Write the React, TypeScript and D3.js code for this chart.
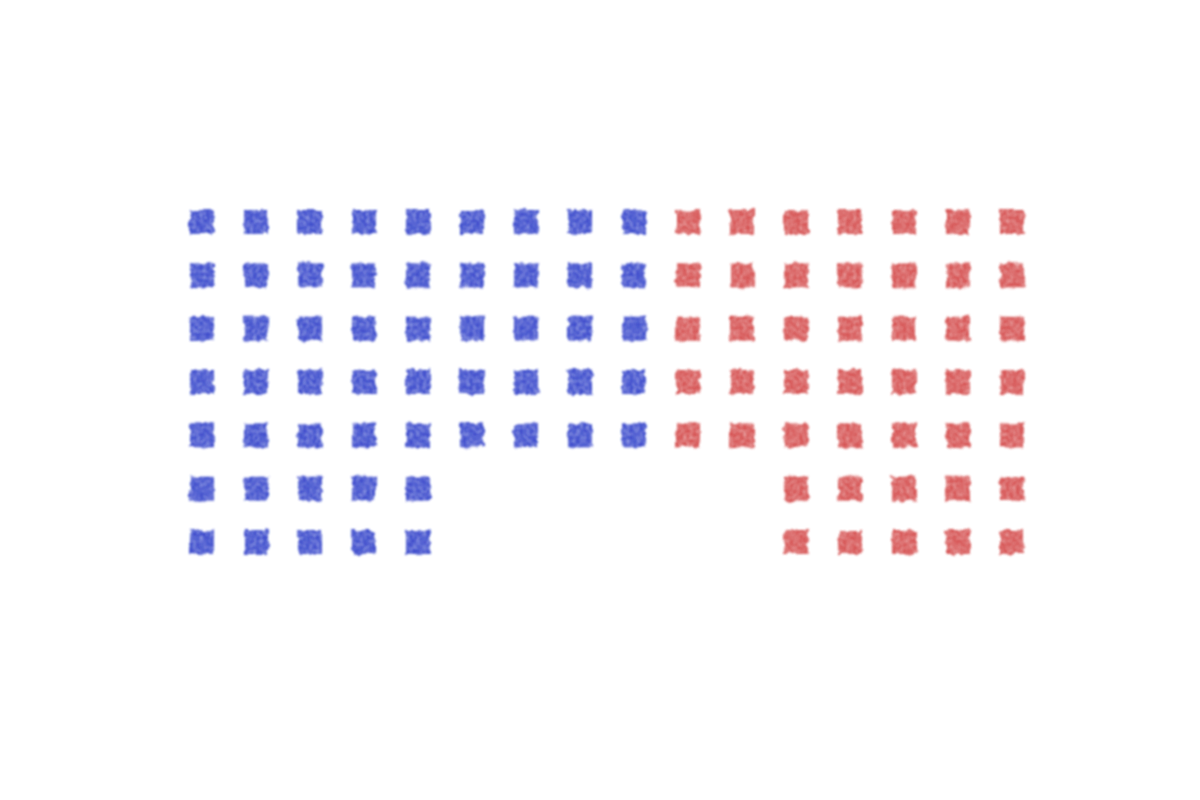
import { useRef, useEffect } from 'react';
import * as d3 from 'd3';

// waffle of 100 squares, two groups
const groups = ['Blue', 'Red'];
const groupValues = [55, 45];
const groupColors = ['#2a3cc8', '#cf3535'];
// how the squares of each group are split into the upper block (5 rows) and lower block (2 rows)
const upperColumns = [9, 7];
const lowerColumns = [5, 5];
const upperRows = 5;
const lowerRows = 2;
const totalColumns = 16;

const width = 1200;
const height = 800;

type Cell = { group: number; col: number; row: number };

export default function App() {
    const svgRef = useRef<SVGSVGElement | null>(null);

    useEffect(() => {
        if (!svgRef.current) return;
        const svg = d3.select(svgRef.current);
        svg.selectAll('*').remove();

        // build the cells from the group counts
        const cells: Cell[] = [];
        let upperStart = 0;
        groups.forEach((_, g) => {
            const upperCount = upperColumns[g] * upperRows;
            const lowerCount = groupValues[g] - upperCount;
            for (let c = 0; c < upperColumns[g]; c++) {
                for (let r = 0; r < upperRows; r++) {
                    cells.push({ group: g, col: upperStart + c, row: r });
                }
            }
            const lowerStart = g === 0 ? 0 : totalColumns - lowerColumns[g];
            for (let i = 0; i < lowerCount; i++) {
                cells.push({
                    group: g,
                    col: lowerStart + (i % lowerColumns[g]),
                    row: upperRows + Math.floor(i / lowerColumns[g]),
                });
            }
            upperStart += upperColumns[g];
        });

        const x = d3
            .scalePoint<number>()
            .domain(d3.range(totalColumns))
            .range([202, 1012]);
        const y = d3
            .scalePoint<number>()
            .domain(d3.range(upperRows + lowerRows))
            .range([222, 542]);

        const size = 24;

        const defs = svg.append('defs');
        const filter = defs
            .append('filter')
            .attr('id', 'crayon')
            .attr('x', '-30%')
            .attr('y', '-30%')
            .attr('width', '160%')
            .attr('height', '160%');
        filter
            .append('feTurbulence')
            .attr('type', 'fractalNoise')
            .attr('baseFrequency', 0.14)
            .attr('numOctaves', 2)
            .attr('seed', 3)
            .attr('result', 'warp');
        filter
            .append('feDisplacementMap')
            .attr('in', 'SourceGraphic')
            .attr('in2', 'warp')
            .attr('scale', 6)
            .attr('xChannelSelector', 'R')
            .attr('yChannelSelector', 'G')
            .attr('result', 'rough');
        filter
            .append('feTurbulence')
            .attr('type', 'fractalNoise')
            .attr('baseFrequency', 0.3)
            .attr('numOctaves', 2)
            .attr('seed', 9)
            .attr('result', 'grain');
        filter
            .append('feColorMatrix')
            .attr('in', 'grain')
            .attr('type', 'matrix')
            .attr('values', '0 0 0 0 0  0 0 0 0 0  0 0 0 0 0  0 0 0 -0.9 1.3')
            .attr('result', 'grainAlpha');
        filter
            .append('feComposite')
            .attr('in', 'rough')
            .attr('in2', 'grainAlpha')
            .attr('operator', 'in')
            .attr('result', 'textured');
        filter
            .append('feGaussianBlur')
            .attr('in', 'textured')
            .attr('stdDeviation', 1.1);

        svg
            .append('g')
            .selectAll('rect')
            .data(cells)
            .enter()
            .append('rect')
            .attr('x', d => (x(d.col) as number) - size / 2)
            .attr('y', d => (y(d.row) as number) - size / 2)
            .attr('width', size)
            .attr('height', size)
            .attr('fill', d => groupColors[d.group])
            .attr('fill-opacity', d => (d.group === 0 ? 0.92 : 0.85))
            .attr('filter', 'url(#crayon)');
    }, []);

    return (
        <svg
            ref={svgRef}
            width={width}
            height={height}
            style={{ position: 'absolute', left: 0, top: 0, background: 'white' }}
        ></svg>
    );
}
